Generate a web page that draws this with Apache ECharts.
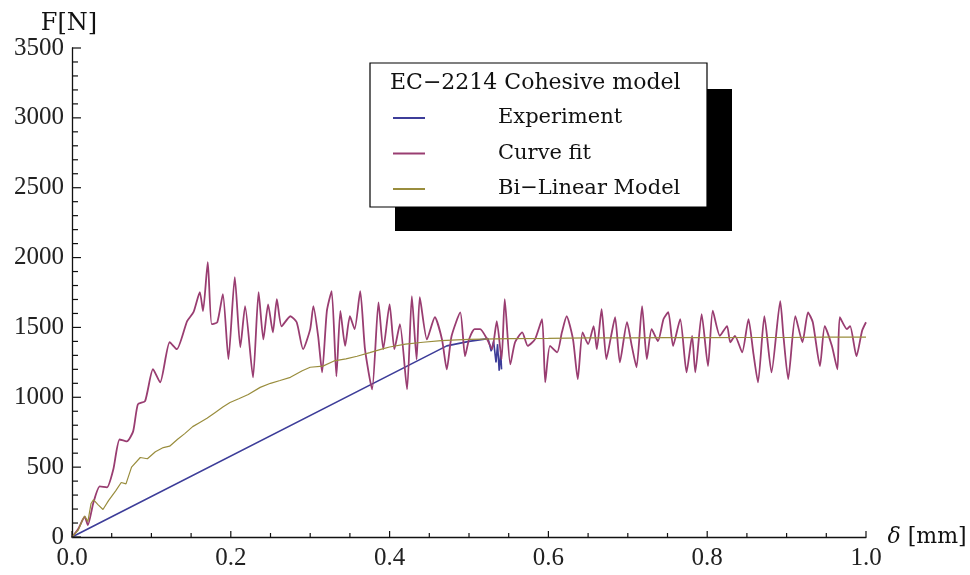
<!DOCTYPE html>
<html>
<head>
<meta charset="utf-8">
<script src="https://cdn.jsdelivr.net/npm/echarts@6/dist/echarts.min.js"></script>
<style>
  html, body { margin: 0; padding: 0; background: #ffffff; }
  #chart { width: 970px; height: 575px; }
</style>
</head>
<body>
<div id="chart"></div>
<script>
// Axis ticks
const xTicks = [0, 0.2, 0.4, 0.6, 0.8, 1.0];
const yTicks = [0, 500, 1000, 1500, 2000, 2500, 3000, 3500];
const xMinorSplit = 4;
const yMinorSplit = 5;

// Legend entries
const seriesNames = ['Experiment', 'Curve fit', 'Bi\u2212Linear Model'];
const legendTitle = 'EC\u22122214 Cohesive model';

// Experiment: displacement [mm] and force [N]
const expX = [0, 0.472, 0.500, 0.524, 0.528, 0.531, 0.534, 0.536, 0.538, 0.540, 0.541];
const expY = [0, 1368, 1400, 1420, 1330, 1400, 1250, 1380, 1190, 1320, 1200];

// Curve fit: displacement [mm] and force [N]
const fitX = [0, 0.008, 0.016, 0.020, 0.027, 0.035, 0.044, 0.052, 0.060, 0.069, 0.077, 0.083, 0.092,
  0.102, 0.111, 0.123, 0.132, 0.145, 0.153, 0.161, 0.165, 0.171, 0.176, 0.183, 0.190, 0.197,
  0.205, 0.212, 0.218, 0.228, 0.235, 0.241, 0.247, 0.253, 0.258, 0.264, 0.275, 0.283, 0.291,
  0.300, 0.304, 0.310, 0.315, 0.321, 0.327, 0.333, 0.338, 0.344, 0.350, 0.356, 0.363, 0.369,
  0.378, 0.386, 0.392, 0.400, 0.406, 0.413, 0.422, 0.428, 0.434, 0.438, 0.447, 0.457, 0.466,
  0.472, 0.478, 0.489, 0.495, 0.500, 0.507, 0.514, 0.523, 0.529, 0.535, 0.541, 0.545, 0.552,
  0.558, 0.567, 0.574, 0.583, 0.592, 0.596, 0.602, 0.611, 0.617, 0.623, 0.631, 0.637, 0.643,
  0.650, 0.657, 0.661, 0.667, 0.673, 0.679, 0.684, 0.690, 0.699, 0.705, 0.711, 0.718, 0.724,
  0.730, 0.738, 0.745, 0.751, 0.757, 0.766, 0.774, 0.781, 0.785, 0.793, 0.801, 0.807, 0.816,
  0.825, 0.829, 0.835, 0.844, 0.852, 0.858, 0.864, 0.872, 0.881, 0.892, 0.896, 0.902, 0.911,
  0.920, 0.927, 0.933, 0.942, 0.948, 0.957, 0.964, 0.967, 0.976, 0.980, 0.988, 0.995, 1.000];
const fitY = [0, 60, 145, 85, 247, 362, 355, 483, 698, 684, 756, 950, 972,
  1201, 1107, 1394, 1344, 1545, 1609, 1752, 1616, 1968, 1523, 1537, 1738, 1273,
  1860, 1358, 1652, 1142, 1752, 1414, 1665, 1464, 1703, 1508, 1580, 1537, 1344,
  1488, 1652, 1437, 1178, 1618, 1760, 1150, 1618, 1368, 1580, 1488, 1760, 1344,
  1057, 1680, 1344, 1665, 1344, 1523, 1057, 1723, 1271, 1716, 1414, 1573, 1414,
  1200, 1437, 1608, 1294, 1414, 1488, 1488, 1414, 1344, 1545, 1271, 1703, 1235,
  1394, 1465, 1368, 1414, 1560, 1107, 1368, 1322, 1465, 1580, 1414, 1130, 1465,
  1380, 1510, 1344, 1630, 1273, 1440, 1573, 1250, 1537, 1368, 1215, 1652, 1273,
  1488, 1402, 1560, 1610, 1368, 1560, 1178, 1440, 1178, 1595, 1223, 1620, 1440,
  1510, 1394, 1440, 1322, 1560, 1322, 1107, 1580, 1178, 1688, 1440, 1130, 1580,
  1394, 1608, 1537, 1223, 1510, 1368, 1200, 1573, 1488, 1510, 1294, 1475, 1537];

// Bi-linear model: displacement [mm] and force [N]
const bilX = [0, 0.008, 0.013, 0.016, 0.020, 0.024, 0.027, 0.033, 0.039, 0.046, 0.055, 0.062, 0.068,
  0.075, 0.086, 0.095, 0.105, 0.115, 0.123, 0.133, 0.142, 0.152, 0.161, 0.170, 0.180, 0.190,
  0.199, 0.210, 0.222, 0.237, 0.250, 0.262, 0.275, 0.290, 0.300, 0.316, 0.330, 0.345, 0.359,
  0.375, 0.390, 0.400, 0.420, 0.442, 0.465, 0.485, 0.500, 0.550, 0.600, 0.650, 0.700, 0.750,
  0.800, 0.850, 0.900, 0.950, 1.000];
const bilY = [0, 50, 120, 150, 110, 240, 267, 230, 197, 260, 330, 390, 380,
  500, 569, 560, 610, 640, 650, 700, 740, 790, 820, 850, 890, 930,
  963, 990, 1020, 1071, 1100, 1120, 1143, 1190, 1215, 1223, 1260, 1275, 1294,
  1320, 1345, 1360, 1380, 1394, 1405, 1411, 1415, 1420, 1422, 1425, 1425, 1427,
  1427, 1428, 1428, 1430, 1430];

const pairs = (xs, ys) => xs.map((x, i) => [x, ys[i]]);

const colors = ['#3d3d99', '#993d71', '#998d3d'];
const tickFont = 'Liberation Serif';
const textFont = 'DejaVu Serif';
const ink = '#111';

// Tick marks pointing into the plot: [x, y, length px, 0 = x-axis tick / 1 = y-axis tick]
function tickMarks(ticks, split, majorLen, minorLen, onX) {
  const out = [];
  ticks.forEach((t, i) => {
    out.push(onX ? [t, yTicks[0], majorLen, 0] : [xTicks[0], t, majorLen, 1]);
    if (i < ticks.length - 1) {
      const step = (ticks[i + 1] - t) / split;
      for (let k = 1; k < split; k++) {
        const v = Math.round((t + k * step) * 1e6) / 1e6;
        out.push(onX ? [v, yTicks[0], minorLen, 0] : [xTicks[0], v, minorLen, 1]);
      }
    }
  });
  return out;
}
const tickData = tickMarks(xTicks, xMinorSplit, 6, 4, true)
  .concat(tickMarks(yTicks, yMinorSplit, 9, 6, false));

const chart = echarts.init(document.getElementById('chart'));
chart.setOption({
  animation: false,
  backgroundColor: '#ffffff',
  color: colors,
  grid: { left: 72, right: 104, top: 48, bottom: 38 },
  title: {
    text: legendTitle,
    left: 385,
    top: 67,
    z: 20,
    textStyle: { fontFamily: textFont, fontSize: 22, fontWeight: 'normal', color: ink }
  },
  legend: {
    orient: 'vertical',
    left: 388,
    top: 101,
    z: 20,
    itemGap: 11.5,
    itemWidth: 32,
    itemHeight: 2,
    icon: 'rect',
    data: seriesNames,
    textStyle: { fontFamily: textFont, fontSize: 21, color: ink, lineHeight: 24, padding: [0, 0, 0, 68] }
  },
  graphic: [
    { type: 'rect', z: 10, shape: { x: 395, y: 89, width: 337, height: 142 }, style: { fill: '#000' } },
    { type: 'rect', z: 11, shape: { x: 370, y: 63, width: 337, height: 144 }, style: { fill: '#fff', stroke: '#000', lineWidth: 1.2 } }
  ],
  xAxis: {
    type: 'value',
    min: xTicks[0],
    max: xTicks[xTicks.length - 1],
    interval: xTicks[1] - xTicks[0],
    name: '{i|\u03b4} [mm]',
    nameLocation: 'end',
    nameGap: 5,
    nameTextStyle: {
      fontFamily: textFont, fontSize: 22, color: ink, verticalAlign: 'middle',
      rich: { i: { fontFamily: textFont, fontSize: 22, fontStyle: 'italic', color: ink } }
    },
    axisLine: { show: true, lineStyle: { color: ink, width: 1.3 } },
    axisTick: { show: false },
    splitLine: { show: false },
    axisLabel: {
      margin: 9, fontFamily: tickFont, fontSize: 25, color: '#222',
      formatter: v => v.toFixed(1)
    }
  },
  yAxis: {
    type: 'value',
    min: yTicks[0],
    max: yTicks[yTicks.length - 1],
    interval: yTicks[1] - yTicks[0],
    name: 'F[N]',
    nameLocation: 'end',
    nameGap: 10,
    nameTextStyle: { fontFamily: textFont, fontSize: 24, color: ink, align: 'center', padding: [0, 6, 0, 0] },
    axisLine: { show: true, lineStyle: { color: ink, width: 1.3 } },
    axisTick: { show: false },
    splitLine: { show: false },
    axisLabel: { margin: 8, fontFamily: tickFont, fontSize: 25, color: '#222', formatter: v => String(v) }
  },
  series: [
    {
      name: seriesNames[0], type: 'line', data: pairs(expX, expY),
      showSymbol: false, symbol: 'none',
      lineStyle: { color: colors[0], width: 1.6 }
    },
    {
      name: seriesNames[1], type: 'line', data: pairs(fitX, fitY),
      showSymbol: false, symbol: 'none', smooth: 0.2,
      lineStyle: { color: colors[1], width: 1.8 }
    },
    {
      name: seriesNames[2], type: 'line', data: pairs(bilX, bilY),
      showSymbol: false, symbol: 'none',
      lineStyle: { color: colors[2], width: 1.2 }
    },
    {
      type: 'custom',
      silent: true,
      z: 5,
      data: tickData,
      encode: { x: 0, y: 1 },
      renderItem: (params, api) => {
        const p = api.coord([api.value(0), api.value(1)]);
        const len = api.value(2);
        const end = api.value(3) === 0 ? [p[0], p[1] - len] : [p[0] + len, p[1]];
        return {
          type: 'line',
          shape: { x1: p[0], y1: p[1], x2: end[0], y2: end[1] },
          style: { stroke: ink, lineWidth: 1.2 }
        };
      }
    }
  ]
});
</script>
</body>
</html>
